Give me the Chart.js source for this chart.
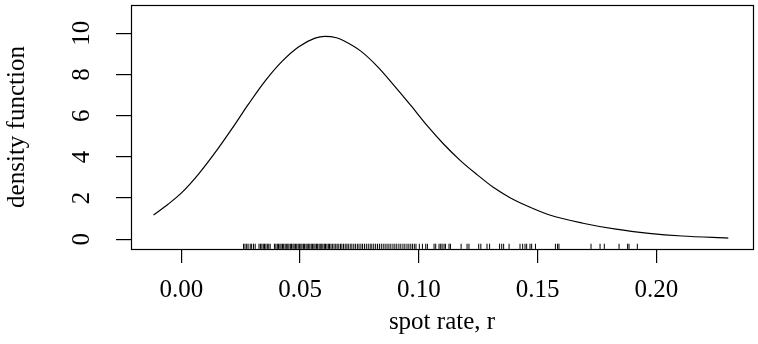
<!DOCTYPE html>
<html lang="en">
<head>
    <meta charset="UTF-8">
    <title>density of spot rate</title>
    <script src="https://cdn.jsdelivr.net/npm/chart.js"></script>
    <style>
        html, body {
            margin: 0;
            padding: 0;
            background: #fff;
        }
        #wrap {
            width: 758px;
            height: 344px;
            position: relative;
        }
    </style>
</head>
<body>
    <div id="wrap"><canvas id="densChart"></canvas></div>

    <script>
        // density curve
        const curveX = [-0.0117, -0.0056, 0.0005, 0.0075, 0.0145, 0.0214, 0.0284, 0.0354, 0.0423, 0.0493,
            0.0563, 0.0604, 0.0653, 0.0688, 0.0757, 0.0827, 0.0897, 0.0966, 0.1036, 0.1106,
            0.1175, 0.1245, 0.1315, 0.1384, 0.1454, 0.1551, 0.1691, 0.1830, 0.1969, 0.2108, 0.2303];
        const curveY = [1.18, 1.70, 2.30, 3.20, 4.25, 5.38, 6.58, 7.70, 8.62, 9.33,
            9.76, 9.85, 9.78, 9.61, 9.12, 8.37, 7.45, 6.50, 5.50, 4.60,
            3.82, 3.14, 2.51, 2.02, 1.63, 1.18, 0.78, 0.49, 0.29, 0.16, 0.06];

        // observed spot rates (rug)
        const rugRates = [0.0262, 0.0268, 0.0275, 0.0281, 0.0290, 0.0296, 0.0304, 0.0311, 0.0327, 0.0333,
            0.0339, 0.0345, 0.0350, 0.0356, 0.0362, 0.0368, 0.0374, 0.0392, 0.0398, 0.0404,
            0.0409, 0.0415, 0.0420, 0.0426, 0.0431, 0.0437, 0.0442, 0.0448, 0.0453, 0.0459,
            0.0464, 0.0470, 0.0475, 0.0481, 0.0486, 0.0492, 0.0497, 0.0503, 0.0508, 0.0514,
            0.0519, 0.0525, 0.0530, 0.0536, 0.0541, 0.0547, 0.0552, 0.0558, 0.0563, 0.0569,
            0.0574, 0.0580, 0.0585, 0.0591, 0.0596, 0.0602, 0.0607, 0.0613, 0.0619, 0.0624,
            0.0630, 0.0636, 0.0643, 0.0650, 0.0656, 0.0663, 0.0670, 0.0676, 0.0683, 0.0690,
            0.0697, 0.0703, 0.0711, 0.0718, 0.0726, 0.0733, 0.0741, 0.0748, 0.0756, 0.0763,
            0.0771, 0.0779, 0.0787, 0.0795, 0.0802, 0.0810, 0.0818, 0.0826, 0.0834, 0.0842,
            0.0850, 0.0858, 0.0866, 0.0874, 0.0882, 0.0891, 0.0899, 0.0907, 0.0916, 0.0924,
            0.0933, 0.0941, 0.0950, 0.0958, 0.0966, 0.0973, 0.0981, 0.0988, 0.1002, 0.1015,
            0.1029, 0.1036, 0.1064, 0.1071, 0.1085, 0.1092, 0.1098, 0.1106, 0.1112, 0.1127,
            0.1133, 0.1178, 0.1203, 0.1211, 0.1252, 0.1261, 0.1287, 0.1298, 0.1340, 0.1349,
            0.1357, 0.1380, 0.1426, 0.1437, 0.1447, 0.1454, 0.1468, 0.1475, 0.1491, 0.1575,
            0.1584, 0.1590, 0.1725, 0.1763, 0.1781, 0.1843, 0.1879, 0.1885, 0.1920];

        const xTicks = [0, 0.05, 0.10, 0.15, 0.20];
        const yTicks = [0, 2, 4, 6, 8, 10];

        const X_MIN = -0.0212, X_MAX = 0.2407;
        const Y_MIN = -0.47, Y_MAX = 11.37;
        const FONT = "'Liberation Serif', 'Times New Roman', serif";

        Chart.defaults.font.family = FONT;
        Chart.defaults.color = '#000';

        const curvePoints = curveX.map((x, i) => ({ x: x, y: curveY[i] }));
        const rugPoints = rugRates.map(r => ({ x: r, y: Y_MIN + 0.13 }));

        // box round the plot + rotated y tick labels (R style)
        const rStyle = {
            id: 'rStyle',
            afterDraw(chart) {
                const ctx = chart.ctx;
                const a = chart.chartArea;
                ctx.save();
                ctx.strokeStyle = '#000';
                ctx.lineWidth = 1.2;
                ctx.strokeRect(Math.round(a.left) + 0.5, Math.round(a.top) + 0.5,
                    Math.round(a.right - a.left), Math.round(a.bottom - a.top));

                const ys = chart.scales.y;
                ctx.fillStyle = '#000';
                ctx.font = '25px ' + FONT;
                ctx.textAlign = 'center';
                ctx.textBaseline = 'alphabetic';
                yTicks.forEach(v => {
                    ctx.save();
                    ctx.translate(89, ys.getPixelForValue(v));
                    ctx.rotate(-Math.PI / 2);
                    ctx.fillText(String(v), 0, 0);
                    ctx.restore();
                });
                ctx.restore();
            }
        };

        const config = {
            type: 'scatter',
            data: {
                datasets: [{
                    label: 'density',
                    data: curvePoints,
                    showLine: true,
                    borderColor: '#000',
                    borderWidth: 1.2,
                    pointRadius: 0,
                    cubicInterpolationMode: 'monotone',
                    fill: false
                }, {
                    label: 'rug',
                    data: rugPoints,
                    showLine: false,
                    pointStyle: 'line',
                    rotation: 90,
                    pointRadius: 2.6,
                    borderColor: '#000',
                    borderWidth: 1
                }]
            },
            options: {
                responsive: true,
                maintainAspectRatio: false,
                animation: false,
                events: [],
                layout: { padding: { top: 5, right: 1, left: 0, bottom: 0 } },
                plugins: {
                    legend: { display: false },
                    tooltip: { enabled: false }
                },
                scales: {
                    x: {
                        type: 'linear',
                        min: X_MIN,
                        max: X_MAX,
                        afterBuildTicks(scale) {
                            scale.ticks = xTicks.map(v => ({ value: v }));
                        },
                        afterFit(scale) { scale.height = 95; },
                        grid: {
                            drawOnChartArea: false,
                            drawTicks: true,
                            tickLength: 14,
                            color: '#000',
                            lineWidth: 1.2
                        },
                        border: { display: false },
                        ticks: {
                            padding: 12,
                            maxRotation: 0,
                            font: { size: 25 },
                            color: '#000',
                            callback: v => v.toFixed(2)
                        },
                        title: {
                            display: true,
                            text: 'spot rate, r',
                            font: { size: 25 },
                            color: '#000',
                            padding: { top: 0, bottom: 7 }
                        }
                    },
                    y: {
                        type: 'linear',
                        min: Y_MIN,
                        max: Y_MAX,
                        afterBuildTicks(scale) {
                            scale.ticks = yTicks.map(v => ({ value: v }));
                        },
                        afterFit(scale) { scale.width = 131; },
                        grid: {
                            drawOnChartArea: false,
                            drawTicks: true,
                            tickLength: 15,
                            color: '#000',
                            lineWidth: 1.2
                        },
                        border: { display: false },
                        ticks: { display: false },
                        title: {
                            display: true,
                            text: 'density function',
                            font: { size: 25 },
                            color: '#000',
                            padding: { top: 2, bottom: 0 }
                        }
                    }
                }
            },
            plugins: [rStyle]
        };

        const ctx = document.getElementById('densChart').getContext('2d');
        const densChart = new Chart(ctx, config);
    </script>
</body>
</html>
